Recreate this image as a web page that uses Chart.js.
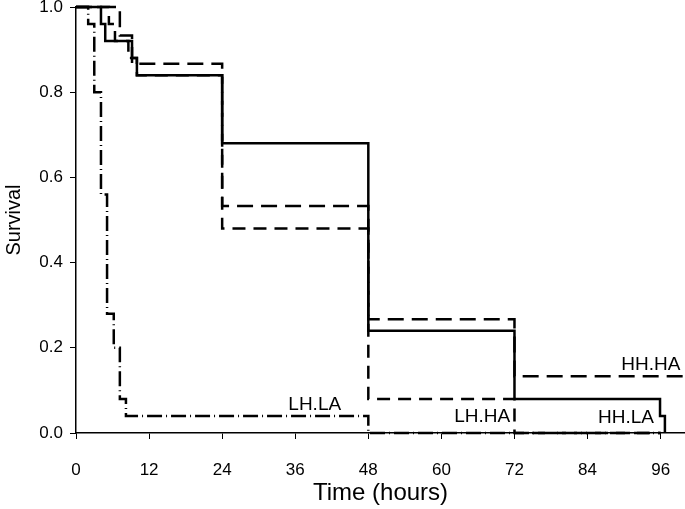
<!DOCTYPE html>
<html>
<head>
<meta charset="utf-8">
<script src="https://cdn.jsdelivr.net/npm/chart.js@4/dist/chart.umd.min.js"></script>
<style>
  html, body { margin: 0; padding: 0; background: #fff; }
  #wrap { width: 685px; height: 509px; }
</style>
</head>
<body>
<div id="wrap"><canvas id="km" width="685" height="509"></canvas></div>
<script>
/* Kaplan-Meier survival, four treatment groups */
var xTicks = [0, 12, 24, 36, 48, 60, 72, 84, 96];
var yTicks = [0, 0.2, 0.4, 0.6, 0.8, 1.0];

var hhlaTime = [0, 4.1, 4.8, 9.2, 10.0, 24, 48, 72, 95.9, 96.7];
var hhlaSurv = [1, 0.96, 0.92, 0.88, 0.84, 0.68, 0.24, 0.08, 0.04, 0];

var hhhaTime = [0, 7.2, 9.2, 24, 48, 72, 100];
var hhhaSurv = [1, 0.933, 0.867, 0.533, 0.267, 0.133, 0.133];

var lhhaTime = [0, 5.4, 6.4, 8.6, 10.0, 24, 48, 72, 96];
var lhhaSurv = [1, 0.96, 0.92, 0.88, 0.84, 0.48, 0.08, 0, 0];

var lhlaTime = [0, 2.0, 3.0, 4.1, 5.1, 6.2, 7.2, 8.2, 48, 96];
var lhlaSurv = [1, 0.96, 0.80, 0.56, 0.28, 0.20, 0.08, 0.04, 0, 0];

var FONT = "'Liberation Sans', Arial, sans-serif";

function pts(t, s) {
  return t.map(function (v, i) { return { x: v, y: s[i] }; });
}

function series(label, t, s, dash, width) {
  return {
    label: label,
    data: pts(t, s),
    stepped: "before",
    borderColor: "#000",
    borderWidth: width,
    borderDash: dash,
    borderCapStyle: "butt",
    pointRadius: 0,
    fill: false,
    clip: false
  };
}

/* group names written next to their curves */
var groupNotes = {
  id: "groupNotes",
  afterDatasetsDraw: function (chart) {
    var spots = [
      { text: "LH.LA", x: 39.2, y: 0.054 },
      { text: "LH.HA", x: 66.7, y: 0.026 },
      { text: "HH.HA", x: 94.4, y: 0.148 },
      { text: "HH.LA", x: 90.3, y: 0.023 }
    ];
    var ctx = chart.ctx, sx = chart.scales.x, sy = chart.scales.y;
    ctx.save();
    ctx.fillStyle = "#000";
    ctx.font = "19px " + FONT;
    ctx.textAlign = "center";
    ctx.textBaseline = "alphabetic";
    spots.forEach(function (p) {
      ctx.fillText(p.text, sx.getPixelForValue(p.x), sy.getPixelForValue(p.y));
    });
    ctx.restore();
  }
};

new Chart(document.getElementById("km"), {
  type: "line",
  data: {
    datasets: [
      series("HH.LA", hhlaTime, hhlaSurv, [], 2.5),
      series("HH.HA", hhhaTime, hhhaSurv, [16, 8], 2.5),
      series("LH.HA", lhhaTime, lhhaSurv, [13, 8], 2.5),
      series("LH.LA", lhlaTime, lhlaSurv, [15, 4, 1, 4], 2.5)
    ]
  },
  options: {
    responsive: false,
    animation: false,
    devicePixelRatio: 1,
    layout: { padding: { top: 7, right: 0, left: 0, bottom: 0 } },
    plugins: { legend: { display: false }, tooltip: { enabled: false } },
    scales: {
      x: {
        type: "linear",
        min: 0,
        max: 100,
        afterFit: function (s) { s.height = 76; s.paddingLeft = 0; s.paddingRight = 0; },
        afterBuildTicks: function (s) { s.ticks = xTicks.map(function (v) { return { value: v }; }); },
        ticks: { color: "#000", font: { family: FONT, size: 17 }, padding: 21, maxRotation: 0 },
        grid: { drawOnChartArea: false, drawTicks: true, tickLength: 6, color: "#000", lineWidth: 1 },
        border: { display: true, color: "#000", width: 1.5 },
        title: { display: true, text: "Time (hours)", color: "#000", font: { family: FONT, size: 24 }, padding: { top: 0, bottom: 1 } }
      },
      y: {
        type: "linear",
        min: 0,
        max: 1,
        afterFit: function (s) { s.width = 76; s.paddingTop = 0; s.paddingBottom = 0; },
        afterBuildTicks: function (s) { s.ticks = yTicks.map(function (v) { return { value: v }; }); },
        ticks: { color: "#000", font: { family: FONT, size: 17 }, padding: 7, callback: function (v) { return v.toFixed(1); } },
        grid: { drawOnChartArea: false, drawTicks: true, tickLength: 6, color: "#000", lineWidth: 1 },
        border: { display: true, color: "#000", width: 1.5 },
        title: { display: true, text: "Survival", color: "#000", font: { family: FONT, size: 20 }, padding: { top: 2, bottom: 0 } }
      }
    }
  },
  plugins: [groupNotes]
});
</script>
</body>
</html>
